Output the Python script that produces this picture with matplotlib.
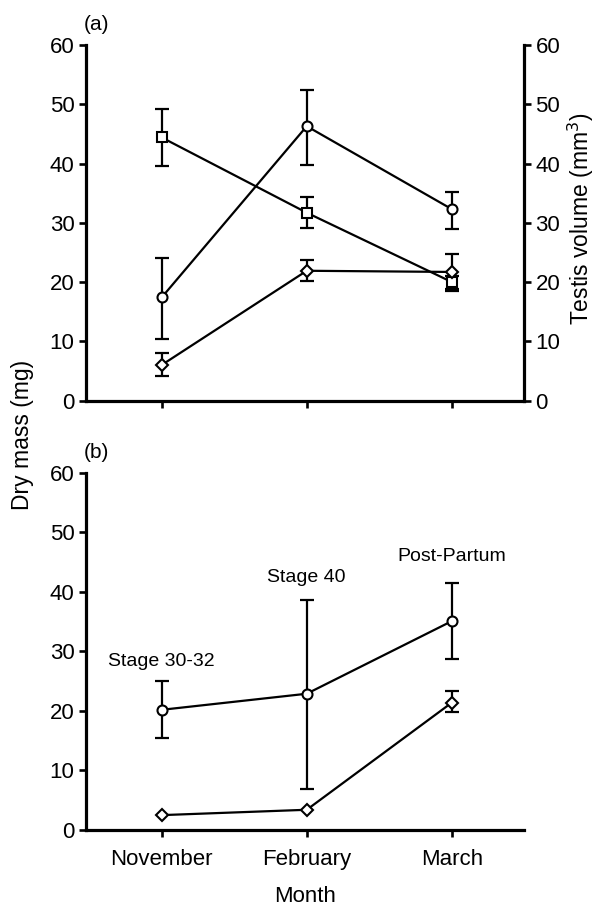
import numpy as np
import matplotlib
matplotlib.use('Agg')
import matplotlib.pyplot as plt

plt.rcParams['font.family'] = ['Liberation Sans', 'DejaVu Sans']

months = ['November', 'February', 'March']

# panel (a): mean, lower end and upper end of each error bar
a_circle = [17.4, 46.3, 32.3]
a_circle_lo = [10.4, 39.7, 29.0]
a_circle_hi = [24.0, 52.4, 35.2]
a_square = [44.4, 31.7, 20.0]
a_square_lo = [39.6, 29.1, 18.5]
a_square_hi = [49.2, 34.3, 21.0]
a_diamond = [6.0, 21.9, 21.7]
a_diamond_lo = [4.1, 20.1, 18.8]
a_diamond_hi = [8.1, 23.8, 24.7]

# panel (b)
b_circle = [20.2, 22.9, 35.1]
b_circle_lo = [15.5, 6.9, 28.7]
b_circle_hi = [25.0, 38.7, 41.5]
b_diamond = [2.5, 3.4, 21.4]
b_diamond_lo = [np.nan, np.nan, 19.8]
b_diamond_hi = [np.nan, np.nan, 23.3]

stages = ['Stage 30-32', 'Stage 40', 'Post-Partum']
stage_y = [28.4, 42.4, 45.9]

x = np.arange(len(months))


def series(ax, y, lo, hi, marker, ms):
    y = np.array(y, dtype=float)
    err = [y - np.array(lo, dtype=float), np.array(hi, dtype=float) - y]
    ax.errorbar(x, y, yerr=err, fmt='-', color='black', lw=1.6,
                elinewidth=1.6, capsize=4.7, capthick=1.6, zorder=2)
    ax.plot(x, y, linestyle='none', marker=marker, ms=ms, mfc='white',
            mec='black', mew=1.5, zorder=3)


def style(ax):
    ax.set_xlim(-0.524, 2.50)
    ax.set_ylim(0, 60)
    ax.set_yticks(range(0, 61, 10))
    ax.set_xticks(x)
    ax.spines['top'].set_visible(False)
    ax.spines['right'].set_visible(False)
    for s in ['left', 'bottom']:
        ax.spines[s].set_linewidth(2.3)
    ax.tick_params(direction='out', length=5, width=1.9, labelsize=16, pad=3)


fig = plt.figure(figsize=(5.96, 9.08), dpi=100)
ax1 = fig.add_axes([0.1438, 0.5589, 0.7359, 0.3915])
ax2 = fig.add_axes([0.1438, 0.0859, 0.7359, 0.3932])

series(ax1, a_circle, a_circle_lo, a_circle_hi, 'o', 7.2)
series(ax1, a_square, a_square_lo, a_square_hi, 's', 6.5)
series(ax1, a_diamond, a_diamond_lo, a_diamond_hi, 'D', 6)
style(ax1)
ax1.set_xticklabels([])

axr = ax1.twinx()
axr.set_ylim(0, 60)
axr.set_yticks(range(0, 61, 10))
for s in ['top', 'left', 'bottom']:
    axr.spines[s].set_visible(False)
axr.spines['right'].set_linewidth(2.3)
axr.tick_params(direction='out', length=5, width=1.9, labelsize=16, pad=3)

series(ax2, b_circle, b_circle_lo, b_circle_hi, 'o', 7.2)
series(ax2, b_diamond, b_diamond_lo, b_diamond_hi, 'D', 6)
style(ax2)
ax2.set_xticklabels(months, fontsize=16)
ax2.tick_params(axis='x', pad=9)
ax2.set_xlabel('Month', fontsize=16, labelpad=11)
for i, (lab, yy) in enumerate(zip(stages, stage_y)):
    ax2.text(x[i], yy, lab, ha='center', va='center', fontsize=14)

ax1.text(-0.005, 1.03, '(a)', transform=ax1.transAxes, fontsize=15,
         ha='left', va='bottom')
ax2.text(-0.005, 1.03, '(b)', transform=ax2.transAxes, fontsize=15,
         ha='left', va='bottom')

fig.text(0.038, 0.521, 'Dry mass (mg)', rotation=90, ha='center',
         va='center', fontsize=16.5)
fig.text(0.974, 0.759, 'Testis volume (mm$^3$)', rotation=90, ha='center',
         va='center', fontsize=16.5)

plt.savefig('out.png', dpi=100)
